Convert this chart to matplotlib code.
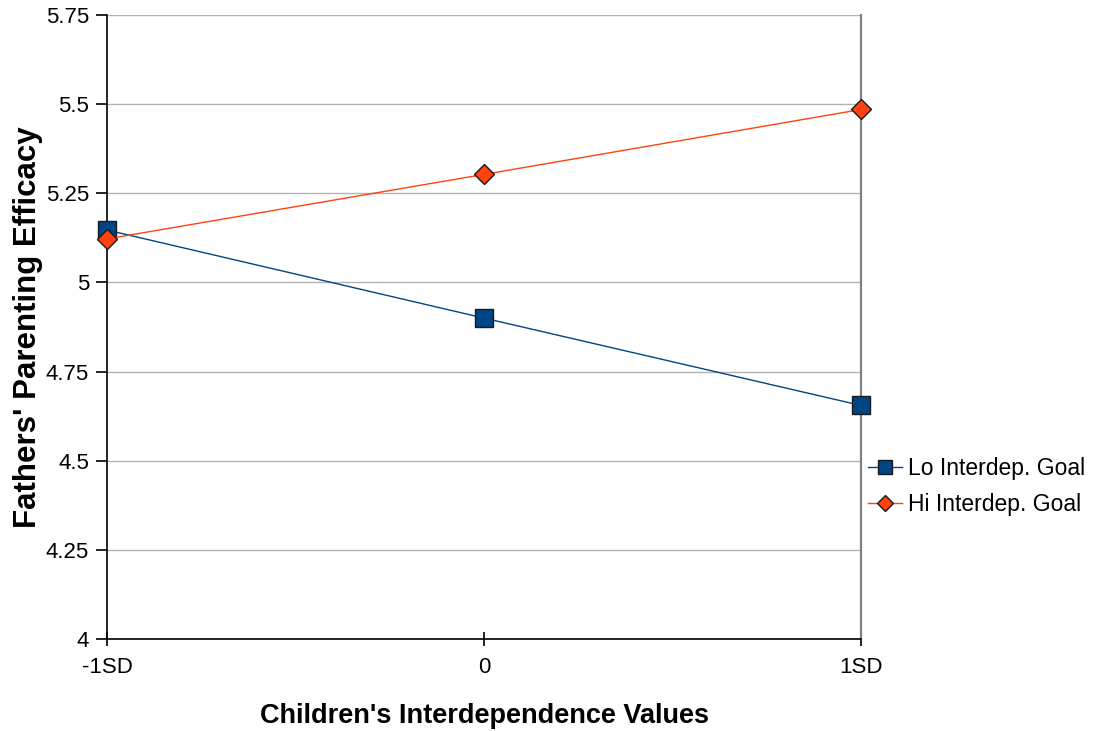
import matplotlib
matplotlib.use("Agg")
import matplotlib.pyplot as plt

plt.rcParams['font.family'] = ['Liberation Sans', 'DejaVu Sans']

categories = ["-1SD", "0", "1SD"]
lo_values = [5.147, 4.900, 4.655]
hi_values = [5.122, 5.303, 5.485]
y_ticks = [4, 4.25, 4.5, 4.75, 5, 5.25, 5.5, 5.75]
y_ticklabels = ["4", "4.25", "4.5", "4.75", "5", "5.25", "5.5", "5.75"]

fig = plt.figure(figsize=(10.95, 7.31), dpi=100)
ax = fig.add_axes([107/1095, (731-639)/731, (861-107)/1095, (639-15)/731])

x = list(range(len(categories)))
ax.plot(x, lo_values, color='#004586', lw=1, marker='s', markersize=13,
        markerfacecolor='#004586', markeredgecolor='#1a1a1a', markeredgewidth=1,
        label='Lo Interdep. Goal', zorder=3, clip_on=False)
ax.plot(x, hi_values, color='#ff420e', lw=1, marker='D', markersize=10,
        markerfacecolor='#ff420e', markeredgecolor='#1a1a1a', markeredgewidth=1,
        label='Hi Interdep. Goal', zorder=4, clip_on=False)

ax.set_xlim(0, 2)
ax.set_ylim(4, 5.75)
ax.set_yticks(y_ticks)
ax.set_yticklabels(y_ticklabels)
ax.set_xticks(x)
ax.set_xticklabels(categories)
ax.yaxis.grid(True, color='#b3b3b3', lw=1)
ax.set_axisbelow(True)

ax.spines['top'].set_visible(False)
ax.spines['right'].set_color('#808080')
ax.spines['right'].set_linewidth(1.6)
for s in ['left', 'bottom']:
    ax.spines[s].set_color('black')
    ax.spines[s].set_linewidth(1.2)

ax.tick_params(axis='y', direction='out', length=8, width=1.2, labelsize=16, pad=5)
ax.tick_params(axis='x', direction='inout', length=10, width=1.2, labelsize=16, pad=8)

ax.set_xlabel("Children's Interdependence Values", fontsize=19.5, fontweight='bold', labelpad=18)
ax.set_ylabel("Fathers' Parenting Efficacy", fontsize=22.5, fontweight='bold', labelpad=2)

leg = fig.legend(loc='upper left', bbox_to_anchor=(868/1095, 1 - 457/731), frameon=False,
                 fontsize=16.5, handlelength=1.5, handletextpad=0.25, labelspacing=0.55,
                 borderaxespad=0, borderpad=0)
for h in leg.legend_handles:
    h.set_markersize(h.get_markersize() * 0.8)

fig.savefig('out.png', dpi=100)
